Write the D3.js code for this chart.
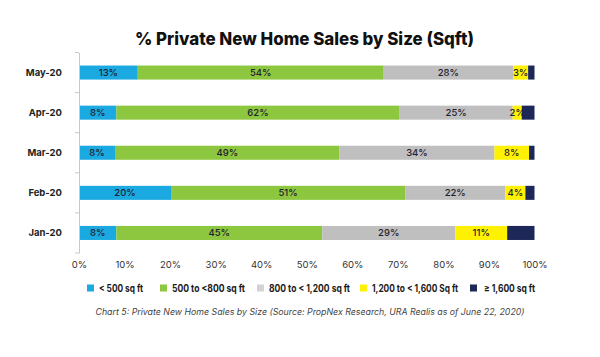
<!DOCTYPE html>
<html>
<head>
<meta charset="utf-8">
<script src="https://cdn.jsdelivr.net/npm/d3@7"></script>
<style>
  html, body { margin: 0; padding: 0; background: #fff; }
  svg { display: block; }
</style>
</head>
<body>
<svg id="chart" width="600" height="357"></svg>
<script>
const months = ["May-20", "Apr-20", "Mar-20", "Feb-20", "Jan-20"];
const seriesNames = ["< 500 sq ft", "500 to <800 sq ft", "800 to < 1,200 sq ft", "1,200 to < 1,600 Sq ft", "≥ 1,600 sq ft"];
const lt500     = [12.9, 8.2, 7.9, 20.2, 8.2];
const s500to800 = [54.0, 62.2, 49.3, 51.4, 45.2];
const s800to1200 = [28.4, 24.8, 34.0, 22.0, 29.2];
const s1200to1600 = [3.3, 2.0, 7.6, 4.4, 11.4];
const ge1600    = [1.4, 2.8, 1.2, 2.0, 6.0];
const xTicks = [0, 10, 20, 30, 40, 50, 60, 70, 80, 90, 100];
const colors = ["#1aa9e1", "#8dc63f", "#bfbfbf", "#fff200", "#1d2858"];
const titleText = "% Private New Home Sales by Size (Sqft)";
const captionText = "Chart 5: Private New Home Sales by Size (Source: PropNex Research, URA Realis as of June 22, 2020)";

const seriesValues = [lt500, s500to800, s800to1200, s1200to1600, ge1600];
const rows = months.map((m, i) => {
  const r = { month: m };
  seriesNames.forEach((s, j) => r[s] = seriesValues[j][i]);
  return r;
});
const stacked = d3.stack().keys(seriesNames)(rows);

const svg = d3.select("#chart");
const font = "Inter, 'Open Sans', sans-serif";

const x = d3.scaleLinear().domain([0, 100]).range([79, 534.5]);
const y = d3.scaleBand().domain(months).range([52.5, 253]).paddingInner(0.65).paddingOuter(0.325);

// Title
svg.append("text")
  .attr("x", 135).attr("y", 45)
  .attr("font-family", font).attr("font-weight", 800).attr("font-size", 17.5)
  .attr("fill", "#111")
  .attr("textLength", 339).attr("lengthAdjust", "spacingAndGlyphs")
  .text(titleText);

// Bars
const layer = svg.append("g").selectAll("g").data(stacked).join("g")
  .attr("fill", (d, i) => colors[i]);
layer.selectAll("rect").data(d => d).join("rect")
  .attr("x", d => x(d[0]))
  .attr("width", d => x(d[1]) - x(d[0]))
  .attr("y", d => y(d.data.month))
  .attr("height", y.bandwidth());

// Segment labels (first four series)
const lbl = svg.append("g").selectAll("g").data(stacked.slice(0, 4)).join("g");
lbl.selectAll("text").data(d => d).join("text")
  .attr("x", d => (x(d[0]) + x(d[1])) / 2)
  .attr("y", d => y(d.data.month) + y.bandwidth() / 2)
  .attr("dy", "0.35em")
  .attr("text-anchor", "middle")
  .attr("font-family", font).attr("font-size", 9.5).attr("font-weight", 500)
  .attr("fill", "#1f2230")
  .text(d => Math.round(d[1] - d[0]) + "%");

// Y axis
const yAxis = svg.append("g").attr("transform", "translate(79,0)")
  .call(d3.axisLeft(y).tickSize(0).tickPadding(17));
yAxis.select(".domain").attr("stroke", "#c8c8c8").attr("stroke-width", 1);
yAxis.selectAll("text").attr("font-family", font).attr("font-weight", 700)
  .attr("font-size", 9.5).attr("fill", "#222");
const bounds = months.map(m => y(m) - y.step() * y.paddingOuter()).concat([y.range()[1]]);
yAxis.selectAll(".btick").data(bounds).join("line").attr("class", "btick")
  .attr("x1", -4).attr("x2", 0).attr("y1", d => d).attr("y2", d => d)
  .attr("stroke", "#c8c8c8");

// X axis
const xAxis = svg.append("g").attr("transform", "translate(0,253)")
  .call(d3.axisBottom(x).tickValues(xTicks).tickFormat(d => d + "%").tickSize(0).tickPadding(8));
xAxis.select(".domain").remove();
xAxis.selectAll("text").attr("font-family", font).attr("font-size", 9.5).attr("fill", "#333");

// Legend (layout)
const legX = [87, 160, 257, 360, 470];
const legTextW = [44, 73, 81, 86, 51];
const leg = svg.append("g").selectAll("g").data(seriesNames).join("g")
  .attr("transform", (d, i) => `translate(${legX[i]},288)`);
leg.append("rect").attr("x", 0).attr("y", -3.5).attr("width", 7).attr("height", 7)
  .attr("fill", (d, i) => i === 2 ? "#d3d3d3" : colors[i]);
leg.append("text").attr("x", (d, i) => i === 4 ? 14 : 12).attr("dy", "0.35em")
  .attr("font-family", font).attr("font-size", 10).attr("font-weight", 700)
  .attr("fill", "#1a1a1a")
  .attr("textLength", (d, i) => legTextW[i]).attr("lengthAdjust", "spacingAndGlyphs")
  .text(d => d);

// Caption
svg.append("text")
  .attr("x", 310).attr("y", 315)
  .attr("text-anchor", "middle")
  .attr("font-family", font).attr("font-size", 8.5).attr("font-style", "italic")
  .attr("fill", "#444")
  .attr("textLength", 429).attr("lengthAdjust", "spacingAndGlyphs")
  .text(captionText);
</script>
</body>
</html>
